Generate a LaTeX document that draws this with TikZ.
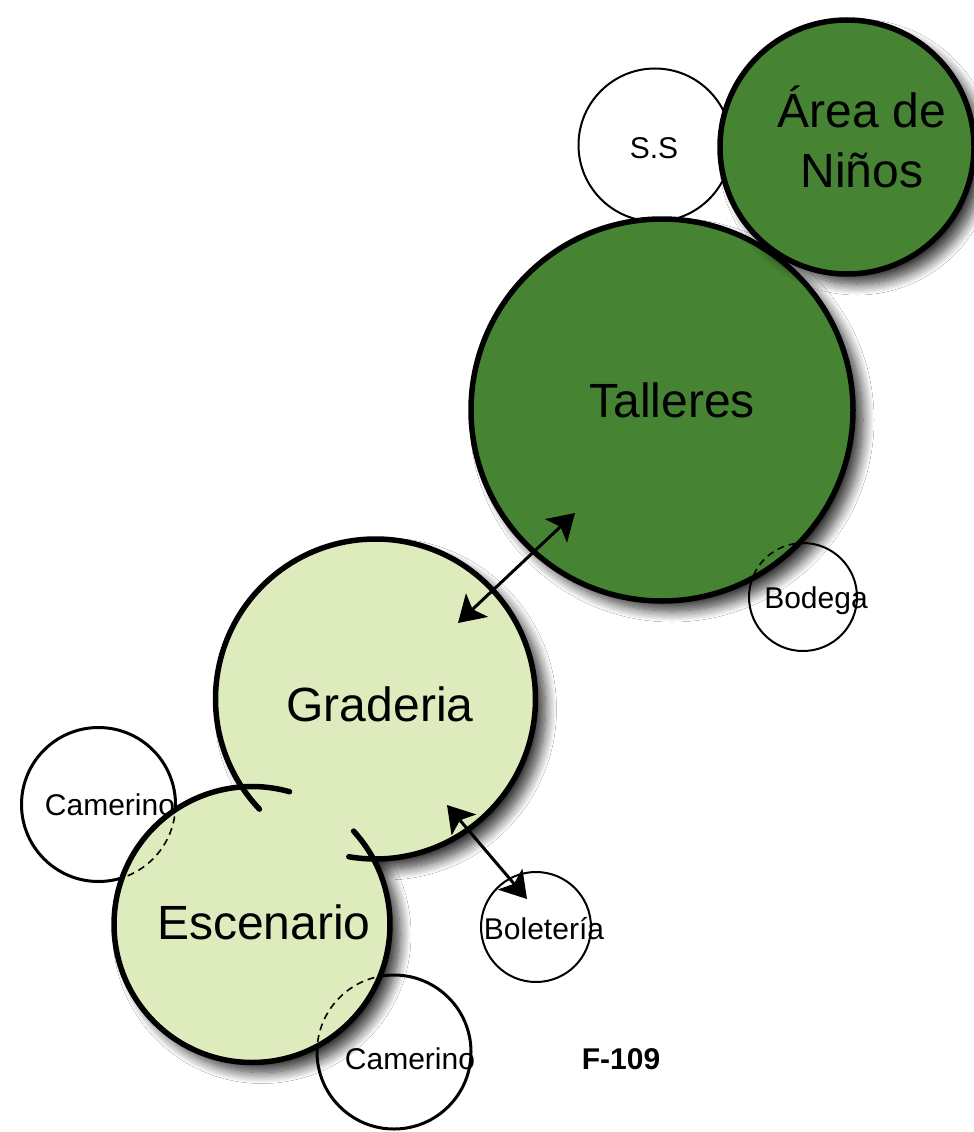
\documentclass[tikz,border=0pt]{standalone}
\usepackage{fontspec}
\setmainfont{Liberation Sans}
\usetikzlibrary{shadows.blur,arrows.meta}
\definecolor{dgreen}{RGB}{70,131,50}
\definecolor{lgreen}{RGB}{221,235,189}
\begin{document}
\begin{tikzpicture}[x=1pt,y=-1pt,
  shad/.style={blur shadow={shadow xshift=10pt, shadow yshift=-10pt, shadow blur radius=11pt, shadow opacity=80, shadow blur steps=14}},
  bigc/.style={circle, draw=black, line width=5.5pt, inner sep=0pt, fill=dgreen, shad},
  lightc/.style={circle, draw=none, inner sep=0pt, fill=lgreen},
  smallc/.style={circle, draw=black, fill=white, line width=3pt, inner sep=0pt},
  thinc/.style={circle, draw=black, fill=white, line width=2pt, inner sep=0pt},
  bigtext/.style={font=\fontsize{48}{60}\selectfont, anchor=base, inner sep=0pt},
  smalltext/.style={font=\fontsize{30}{36}\selectfont, anchor=base, inner sep=0pt},
  outline/.style={line width=5.5pt, line cap=round},
  dasharc/.style={dash pattern=on 7pt off 5pt, line width=1.6pt},
  link/.style={line width=3pt, {Stealth[length=26pt,width=32pt,inset=6pt]}-{Stealth[length=26pt,width=32pt,inset=6pt]}}
]
\useasboundingbox (0,0) rectangle (974,1132);
\fill[white] (0,0) rectangle (974,1132);

% small circles (below)
\node[thinc, minimum size=153pt] (ss) at (655,145) {};
\node[thinc, minimum size=108pt] (bod) at (803,597) {};
\node[smallc, minimum size=154pt] (camL) at (98.5,804.5) {};
\node[smallc, minimum size=154pt] (camB) at (394,1052) {};
\node[thinc, minimum size=110pt] (bol) at (536,927) {};

% big circles
\node[bigc, minimum size=382pt] (tall) at (662,410) {};
\node[bigc, minimum size=254pt] (area) at (847,147) {};
\node[lightc, shad, minimum size=320pt] (grad) at (375.5,699) {};
\node[lightc, shad, minimum size=276pt] (esc) at (252,924.5) {};
\node[lightc, minimum size=320pt] (grad2) at (375.5,699) {};

% outlines of Graderia and Escenario with the overlap left open
\draw[outline] (grad.center) ++(136.5:160) arc[start angle=136.5, end angle=459.6, radius=160];
\draw[outline] (esc.center) ++(-42.6:138) arc[start angle=-42.6, end angle=285.8, radius=138];

% dashed parts of small circles inside big ones
\begin{scope}
  \clip (tall.center) circle (191);
  \draw[dasharc] (bod.center) circle (54);
\end{scope}
\begin{scope}
  \clip (esc.center) circle (138);
  \draw[dasharc] (camL.center) circle (77);
  \draw[dasharc] (camB.center) circle (77);
\end{scope}

% texts
\node[bigtext, align=center, anchor=center] (tArea) at (862,137) {Área de\\Niños};
\node[bigtext] (tTall) at (672,417) {Talleres};
\node[bigtext] (tGrad) at (380,721) {Graderia};
\node[bigtext] (tEsc) at (264,939) {Escenario};
\node[smalltext] (tSS) at (654,158) {S.S};
\node[smalltext] (tBod) at (816,608) {Bodega};
\node[smalltext] (tCamL) at (110,815) {Camerino};
\node[smalltext] (tCamB) at (410,1069) {Camerino};
\node[smalltext] (tBol) at (544,939) {Boletería};
\node[smalltext, font=\fontsize{30}{36}\selectfont\bfseries] (tF) at (621,1069) {F-109};

% arrows
\coordinate (a1s) at (458,623);
\coordinate (a1e) at (575,513);
\coordinate (a2s) at (447,805);
\coordinate (a2e) at (527,899);
\draw[link] (a1s) -- (a1e);
\draw[link] (a2s) -- (a2e);
\end{tikzpicture}
\end{document}
